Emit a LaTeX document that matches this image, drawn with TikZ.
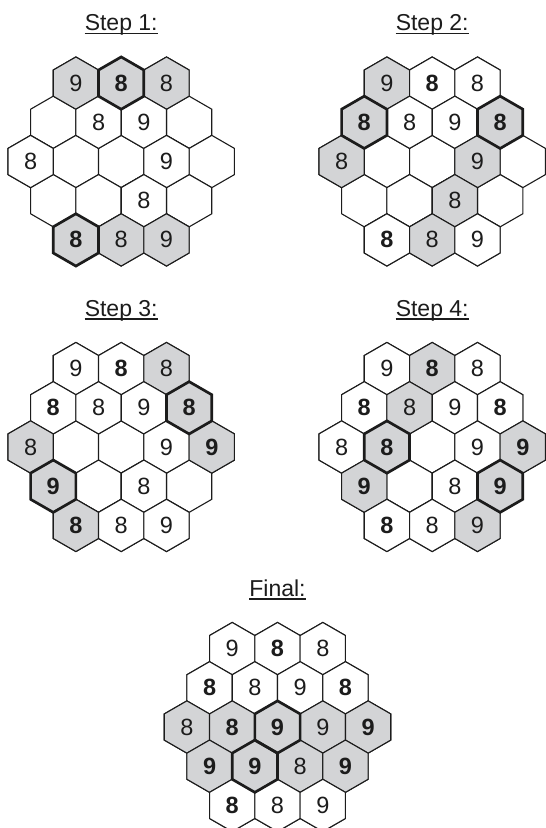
\documentclass[tikz,border=0pt]{standalone}
\usepackage{fontspec}
\setmainfont{Liberation Sans}
\usetikzlibrary{calc}
\definecolor{ink}{HTML}{1C1C1C}
\definecolor{cellgray}{HTML}{D3D4D6}

\tikzset{
  hexcell/.style={draw=ink,line width=1.1pt},
  picked/.style={draw=ink,line width=2.7pt},
  cell a/.style={fill=white},
  cell b/.style={fill=white},
  cell g/.style={fill=cellgray},
  cell h/.style={fill=cellgray},
  cell k/.style={fill=cellgray},
  digit/.style={inner sep=0pt,text=ink,font=\fontsize{23.5}{28}\selectfont},
  digit a/.style={digit},
  digit b/.style={digit,font=\fontsize{23.5}{28}\selectfont\bfseries},
  digit g/.style={digit},
  digit h/.style={digit b},
  digit k/.style={digit b},
  steptitle/.style={inner sep=0pt,anchor=base,text=ink,font=\fontsize{23}{28}\selectfont},
  underline/.style={draw=ink,line width=1.2pt}
}

% hexagon around (#1,#2)
\newcommand\hexpath[2]{(#1,#2) +(30:\hexR) -- +(90:\hexR) -- +(150:\hexR) -- +(210:\hexR) -- +(270:\hexR) -- +(330:\hexR) -- cycle}

% #1 name, #2/#3 centre, #4 title, #5 cells r/c/text/kind, #6 thick cells
\newcommand\board[6]{%
  \node[steptitle] (#1-title) at (#2,#3-131) {#4};
  \draw[underline] ([yshift=-3pt]#1-title.base west) -- ([yshift=-3pt]#1-title.base east);
  \foreach \r in {0,...,4}{
    \pgfmathtruncatemacro\n{5-abs(\r-2)}
    \foreach \c in {1,...,\n}{
      \pgfmathsetmacro\hx{#2+(\c-(\n+1)/2)*\hexW}
      \pgfmathsetmacro\hy{#3+(\r-2)*\hexH}
      \path[hexcell,fill=white] \hexpath{\hx}{\hy};}}
  \foreach \r/\c/\t/\k in {#5}{
    \pgfmathtruncatemacro\n{5-abs(\r-2)}
    \pgfmathsetmacro\hx{#2+(\c-(\n+1)/2)*\hexW}
    \pgfmathsetmacro\hy{#3+(\r-2)*\hexH}
    \path[hexcell,cell \k] \hexpath{\hx}{\hy};
    \node[digit \k] (#1-\r-\c) at (\hx,\hy) {\t};}
  \foreach \r/\c in {#6}{
    \pgfmathtruncatemacro\n{5-abs(\r-2)}
    \pgfmathsetmacro\hx{#2+(\c-(\n+1)/2)*\hexW}
    \pgfmathsetmacro\hy{#3+(\r-2)*\hexH}
    \path[picked] \hexpath{\hx}{\hy};}
}

\begin{document}
\begin{tikzpicture}[x=1pt,y=-1pt]
  \def\hexW{45.3}\def\hexH{39.2}\def\hexR{26.15}
  \fill[white] (0,0) rectangle (546,828);
  \useasboundingbox (0,0) rectangle (546,828);

  % step 1
  \board{s1}{121.2}{161.5}{Step 1:}
    {0/1/9/g,0/2/8/k,0/3/8/g,1/2/8/a,1/3/9/a,2/1/8/a,2/4/9/a,3/3/8/a,4/1/8/k,4/2/8/g,4/3/9/g}
    {0/2,4/1}
  % step 2
  \board{s2}{432.2}{161.5}{Step 2:}
    {0/1/9/g,0/2/8/b,0/3/8/a,1/1/8/k,1/2/8/a,1/3/9/a,1/4/8/k,2/1/8/g,2/4/9/g,3/3/8/g,4/1/8/b,4/2/8/g,4/3/9/a}
    {1/1,1/4}
  % step 3
  \board{s3}{121.2}{447}{Step 3:}
    {0/1/9/a,0/2/8/b,0/3/8/g,1/1/8/b,1/2/8/a,1/3/9/a,1/4/8/k,2/1/8/g,2/4/9/a,2/5/9/h,3/1/9/k,3/3/8/a,4/1/8/h,4/2/8/a,4/3/9/a}
    {1/4,3/1}
  % step 4
  \board{s4}{432.2}{447}{Step 4:}
    {0/1/9/a,0/2/8/h,0/3/8/a,1/1/8/b,1/2/8/g,1/3/9/a,1/4/8/b,2/1/8/a,2/2/8/k,2/4/9/a,2/5/9/h,3/1/9/h,3/3/8/a,3/4/9/k,4/1/8/b,4/2/8/a,4/3/9/g}
    {2/2,3/4}
  % final
  \board{fin}{277.5}{727}{Final:}
    {0/1/9/a,0/2/8/b,0/3/8/a,1/1/8/b,1/2/8/a,1/3/9/a,1/4/8/b,2/1/8/g,2/2/8/h,2/3/9/k,2/4/9/g,2/5/9/h,3/1/9/h,3/2/9/k,3/3/8/g,3/4/9/h,4/1/8/b,4/2/8/a,4/3/9/a}
    {2/3,3/2}
\end{tikzpicture}
\end{document}
